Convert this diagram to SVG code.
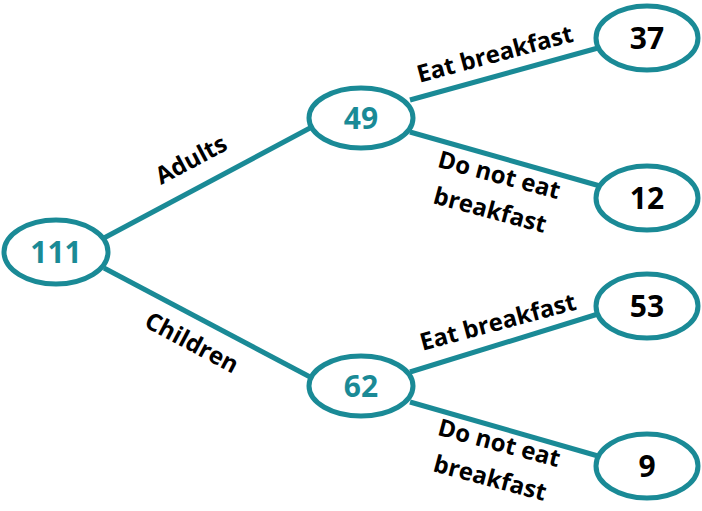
<svg xmlns="http://www.w3.org/2000/svg" width="702" height="511" viewBox="0 0 702 511">
<style>
.n{fill:#fff;stroke:#1a8a96;stroke-width:5}
.c line{stroke:#1a8a96;stroke-width:5}
text{font-family:"Open Sans","DejaVu Sans",sans-serif;font-weight:bold;text-anchor:middle}
.t{fill:#1a8a96;font-size:30px}
.b{fill:#000;font-size:30px}
.l{fill:#000;font-size:24px}
</style>
<rect width="702" height="511" fill="#fff"/>
<g class="c" id="connectors">
<line x1="104" y1="238" x2="310" y2="128"/>
<line x1="104" y1="268" x2="312" y2="378"/>
<line x1="410" y1="100" x2="598" y2="48"/>
<line x1="410" y1="132" x2="600" y2="186"/>
<line x1="410" y1="372" x2="598" y2="314"/>
<line x1="410" y1="402" x2="598" y2="456"/>
</g>
<g id="n111"><ellipse class="n" cx="56" cy="252" rx="52" ry="32"/><text class="t" x="56" y="263">111</text></g>
<g id="n49"><ellipse class="n" cx="361" cy="118" rx="52" ry="30"/><text class="t" x="361" y="129">49</text></g>
<g id="n62"><ellipse class="n" cx="361" cy="386" rx="52" ry="30"/><text class="t" x="361" y="397">62</text></g>
<g id="n37"><ellipse class="n" cx="647" cy="38" rx="51" ry="32"/><text class="b" x="647" y="49">37</text></g>
<g id="n12"><ellipse class="n" cx="647" cy="198" rx="51" ry="32"/><text class="b" x="647" y="209">12</text></g>
<g id="n53"><ellipse class="n" cx="647" cy="306" rx="51" ry="32"/><text class="b" x="647" y="317">53</text></g>
<g id="n9"><ellipse class="n" cx="647" cy="466" rx="51" ry="32"/><text class="b" x="647" y="477">9</text></g>
<g id="labels">
<text class="l" transform="translate(195,167) rotate(-28)">Adults</text>
<text class="l" transform="translate(188,350) rotate(28)">Children</text>
<text class="l" transform="translate(497,62) rotate(-15)">Eat breakfast</text>
<text class="l" transform="translate(497,183) rotate(15)">Do not eat</text>
<text class="l" transform="translate(488,218) rotate(15)">breakfast</text>
<text class="l" transform="translate(500,330) rotate(-15)">Eat breakfast</text>
<text class="l" transform="translate(497,451) rotate(15)">Do not eat</text>
<text class="l" transform="translate(488,486) rotate(15)">breakfast</text>
</g>
</svg>
